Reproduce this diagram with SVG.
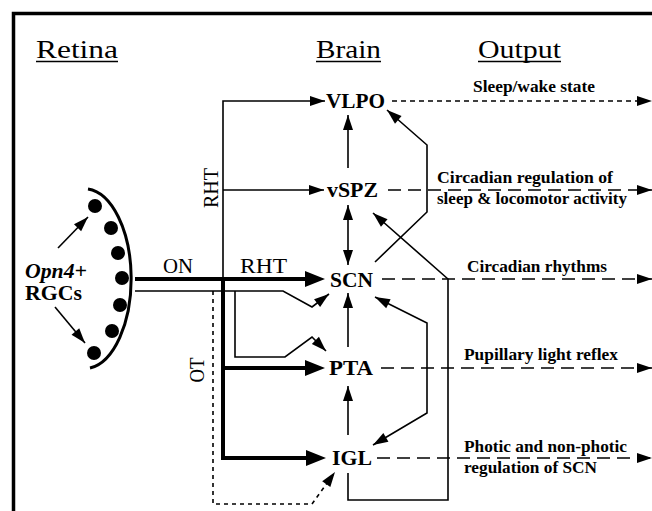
<svg xmlns="http://www.w3.org/2000/svg" width="652" height="511" viewBox="0 0 652 511">
<defs>
<style>
text{font-family:'Liberation Serif','DejaVu Serif','Noto Serif',serif;fill:#000}
.hd{font-size:25px}
.nd{font-size:21px;font-weight:bold}
.lb{font-size:20px}
.out{font-size:16px;font-weight:bold}
.thin{fill:none;stroke:#000;stroke-width:1.6}
.thick{fill:none;stroke:#000;stroke-width:4}
.dash{fill:none;stroke:#000;stroke-width:1.6;stroke-dasharray:13 7}
.sdash{fill:none;stroke:#000;stroke-width:1.6;stroke-dasharray:5 4}
.dot{fill:none;stroke:#000;stroke-width:1.6;stroke-dasharray:4 4}
</style>
<marker id="ah" markerUnits="userSpaceOnUse" markerWidth="16" markerHeight="12" refX="15" refY="5" orient="auto-start-reverse" overflow="visible">
<path d="M0,0 L15,5 L0,10 z" fill="#000"/>
</marker>
<marker id="ahT" markerUnits="userSpaceOnUse" markerWidth="21" markerHeight="17" refX="0" refY="8" orient="auto" overflow="visible">
<path d="M0,0 L20,8 L0,16 z" fill="#000"/>
</marker>
</defs>
<rect width="652" height="511" fill="#fff"/>
<g id="frame">
<path d="M13.5,511 V13.5 H652" fill="none" stroke="#000" stroke-width="3.5"/>
</g>
<g id="headers">
<text class="hd" x="36" y="58" textLength="82" lengthAdjust="spacingAndGlyphs">Retina</text>
<line x1="36" y1="61.5" x2="118" y2="61.5" stroke="#000" stroke-width="1.5"/>
<text class="hd" x="316" y="58" textLength="65" lengthAdjust="spacingAndGlyphs">Brain</text>
<line x1="316" y1="61.5" x2="381" y2="61.5" stroke="#000" stroke-width="1.5"/>
<text class="hd" x="478" y="58" textLength="83" lengthAdjust="spacingAndGlyphs">Output</text>
<line x1="478" y1="61.5" x2="561" y2="61.5" stroke="#000" stroke-width="1.5"/>
</g>
<g id="retina">
<path d="M88,189 A47,90 0 0 1 90,368" fill="none" stroke="#000" stroke-width="3"/>
<circle cx="95" cy="206" r="7"/>
<circle cx="111" cy="228" r="7"/>
<circle cx="118" cy="253" r="7"/>
<circle cx="122" cy="278" r="7"/>
<circle cx="120" cy="305" r="7"/>
<circle cx="112" cy="331" r="7"/>
<circle cx="94" cy="353" r="7"/>
<text class="nd" x="25" y="278" font-style="italic" textLength="62" lengthAdjust="spacingAndGlyphs">Opn4+</text>
<text class="nd" x="25" y="300" textLength="57" lengthAdjust="spacingAndGlyphs">RGCs</text>
<path class="thin" d="M58,248 L88,217" marker-end="url(#ah)"/>
<path class="thin" d="M55,307 L85,343" marker-end="url(#ah)"/>
</g>
<g id="VLPO"><text class="nd" x="326" y="108" textLength="59" lengthAdjust="spacingAndGlyphs">VLPO</text></g>
<g id="vSPZ"><text class="nd" x="327" y="197" textLength="51" lengthAdjust="spacingAndGlyphs">vSPZ</text></g>
<g id="SCN"><text class="nd" x="330" y="287" textLength="43" lengthAdjust="spacingAndGlyphs">SCN</text></g>
<g id="PTA"><text class="nd" x="329" y="375" textLength="44" lengthAdjust="spacingAndGlyphs">PTA</text></g>
<g id="IGL"><text class="nd" x="332" y="465" textLength="40" lengthAdjust="spacingAndGlyphs">IGL</text></g>
<g id="labels">
<text class="lb" x="163" y="273" textLength="30" lengthAdjust="spacingAndGlyphs">ON</text>
<text class="lb" x="240" y="273" textLength="47" lengthAdjust="spacingAndGlyphs">RHT</text>
<text class="lb" transform="translate(218,188) rotate(-90)" text-anchor="middle" textLength="40" lengthAdjust="spacingAndGlyphs">RHT</text>
<text class="lb" transform="translate(204,370) rotate(-90)" text-anchor="middle" textLength="25" lengthAdjust="spacingAndGlyphs">OT</text>
<text class="out" x="473" y="92" textLength="122" lengthAdjust="spacingAndGlyphs">Sleep/wake state</text>
<text class="out" x="437" y="183" textLength="176" lengthAdjust="spacingAndGlyphs">Circadian regulation of</text>
<text class="out" x="437" y="204" textLength="190" lengthAdjust="spacingAndGlyphs">sleep &amp; locomotor activity</text>
<text class="out" x="467" y="272" textLength="140" lengthAdjust="spacingAndGlyphs">Circadian rhythms</text>
<text class="out" x="464" y="360" textLength="154" lengthAdjust="spacingAndGlyphs">Pupillary light reflex</text>
<text class="out" x="464" y="452" textLength="163" lengthAdjust="spacingAndGlyphs">Photic and non-photic</text>
<text class="out" x="464" y="473" textLength="133" lengthAdjust="spacingAndGlyphs">regulation of SCN</text>
</g>
<g id="connectors">
<path class="thin" d="M223,279 V101 H325" marker-end="url(#ah)"/>
<path class="thin" d="M223,190 H324" marker-end="url(#ah)"/>
<path class="thick" d="M135,279 H305" marker-end="url(#ahT)"/>
<path class="thick" d="M223,277 V458 H306" marker-end="url(#ahT)"/>
<path class="thick" d="M223,368 H305" marker-end="url(#ahT)"/>
<path class="thin" d="M135,291 H283 L312,307 L329,294" marker-end="url(#ah)"/>
<path class="thin" d="M235,291 V357 H285 L312,337 L326,351" marker-end="url(#ah)"/>
<path class="dot" d="M213,291 V504 H312 L335,472" marker-end="url(#ah)"/>
<path class="thin" d="M348,168 V115" marker-end="url(#ah)"/>
<path class="thin" d="M348,205 V265" marker-start="url(#ah)" marker-end="url(#ah)"/>
<path class="thin" d="M348,347 V293" marker-end="url(#ah)"/>
<path class="thin" d="M348,435 V386" marker-end="url(#ah)"/>
<path class="thin" d="M375,262 L427,212 V145 L387,110" marker-end="url(#ah)"/>
<path class="thin" d="M348,473 V500 H448 V279 L373,213" marker-end="url(#ah)"/>
<path class="thin" d="M375,297 L427,323 V413 L373,445" marker-start="url(#ah)" marker-end="url(#ah)"/>
<path class="sdash" d="M392,101 H652" marker-end="url(#ah)"/>
<path class="dash" d="M388,190 H652" marker-end="url(#ah)"/>
<path class="dash" d="M382,279 H652" marker-end="url(#ah)"/>
<path class="dash" d="M381,368 H652" marker-end="url(#ah)"/>
<path class="dash" d="M377,458 H652" marker-end="url(#ah)"/>
</g>
</svg>
